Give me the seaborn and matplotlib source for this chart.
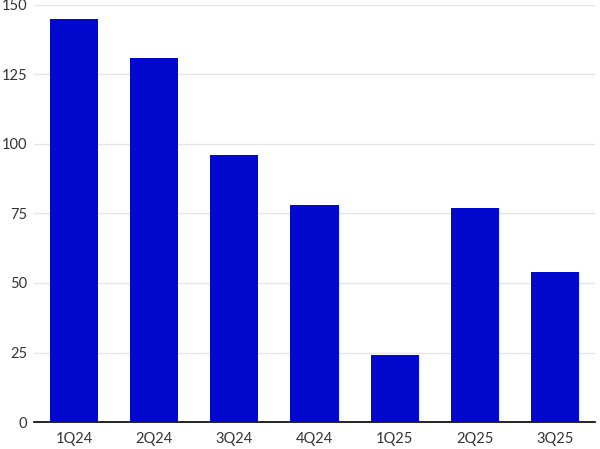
import matplotlib
matplotlib.use("Agg")
import matplotlib.pyplot as plt
import seaborn as sns
import pandas as pd

categories = ["1Q24", "2Q24", "3Q24", "4Q24", "1Q25", "2Q25", "3Q25"]
values = [145, 131, 96, 78, 24, 77, 54]
y_ticks = [0, 25, 50, 75, 100, 125, 150]

sns.set_theme(style="white")
plt.rcParams['font.family'] = ['Lato', 'DejaVu Sans']

df = pd.DataFrame({"quarter": categories, "value": values})

fig = plt.figure(figsize=(6.0, 4.49), dpi=100)
ax = fig.add_axes([34/600, 27/449, 561/600, 417/449])

sns.barplot(data=df, x="quarter", y="value", color="#0308CF", saturation=1,
            width=0.6, ax=ax, zorder=3, linewidth=0, edgecolor="none")

ax.set_xlim(-0.5, 6.5)
ax.set_ylim(0, 150)
ax.set_yticks(y_ticks)
ax.yaxis.grid(True, color="#e6e6e6", linewidth=1, zorder=0)
ax.set_axisbelow(True)
ax.set_xlabel("")
ax.set_ylabel("")
for s in ["top", "right", "left"]:
    ax.spines[s].set_visible(False)
ax.spines["bottom"].set_color("#000000")
ax.spines["bottom"].set_linewidth(1.2)
ax.tick_params(axis="both", length=0, labelsize=10.5, labelcolor="#333333")
ax.tick_params(axis="y", pad=5)
ax.tick_params(axis="x", pad=7)

fig.savefig("out.png", dpi=100)
